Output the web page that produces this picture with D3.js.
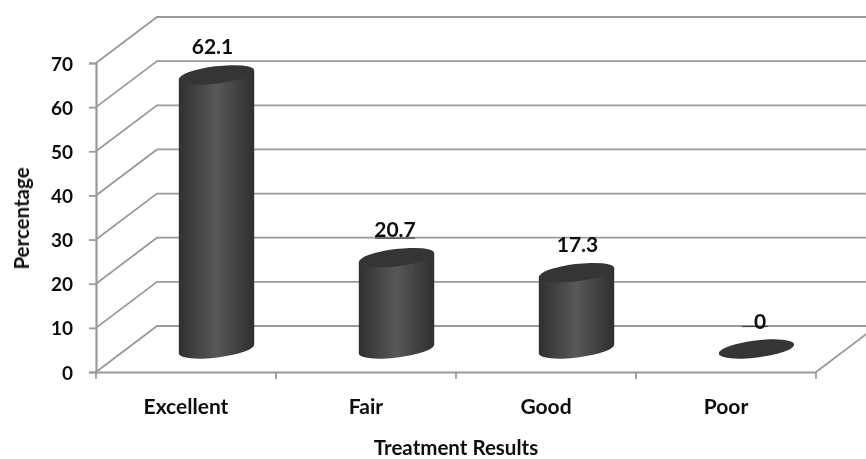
<!DOCTYPE html>
<html><head><meta charset="utf-8">
<script src="https://cdn.jsdelivr.net/npm/d3@7"></script>
<style>
html,body{margin:0;padding:0;background:#fff;overflow:hidden}
text{font-family:Lato,"Open Sans",sans-serif;fill:#111}
</style></head><body>
<svg id="c" width="866" height="459"></svg>
<script>
const categories = ["Excellent","Fair","Good","Poor"];
const values = [62.1,20.7,17.3,0];
const valueLabels = ["62.1","20.7","17.3","0"];
const yTicks = [0,10,20,30,40,50,60,70];
const xAxisTitle = "Treatment Results";
const yAxisTitle = "Percentage";

const svg = d3.select("#c");
const x = d3.scaleBand().domain(categories).range([96,816]);
const y = d3.scaleLinear().domain([0,70]).range([372,63]);
const depth = {dx:61, dy:-46};
const gray = "#9a9a9a";

const defs = svg.append("defs");
const grad = defs.append("linearGradient").attr("id","cyl");
[[0,"#303030"],[0.5,"#585858"],[1,"#2e2e2e"]].forEach(s=>
  grad.append("stop").attr("offset",s[0]).attr("stop-color",s[1]));
defs.append("filter").attr("id","soft").append("feGaussianBlur").attr("stdDeviation",0.5);

const root = svg.append("g").attr("filter","url(#soft)");

const grid = root.append("g").attr("stroke",gray).attr("stroke-width",1.8).attr("fill","none");
yTicks.forEach(t=>{
  grid.append("path").attr("d",d3.line()([
    [x.range()[0],y(t)],
    [x.range()[0]+depth.dx,y(t)+depth.dy],
    [866,y(t)+depth.dy]
  ]));
});
grid.append("line")
  .attr("x1",x.range()[1]).attr("y1",y(0))
  .attr("x2",x.range()[1]+depth.dx).attr("y2",y(0)+depth.dy);

const yAxis = d3.axisLeft(y).tickValues(yTicks).tickSize(7).tickPadding(16);
const gy = root.append("g").attr("transform","translate(96,0)").call(yAxis);
const xAxis = d3.axisBottom(x).tickSize(0).tickPadding(27);
const gx = root.append("g").attr("transform","translate(0,372)").call(xAxis);
[...x.domain().map(c=>x(c)),x.range()[1]].forEach(p=>
  gx.append("line").attr("x1",p).attr("x2",p).attr("y1",0).attr("y2",7)
    .attr("stroke",gray).attr("stroke-width",1.8));
[gy,gx].forEach(g=>{
  g.selectAll(".domain").attr("stroke",gray).attr("stroke-width",2.2);
  g.selectAll(".tick line").attr("stroke",gray).attr("stroke-width",1.8);
  g.selectAll("text").style("font-weight",700).attr("fill","#111");
});
gy.selectAll("text").style("font-size","19px").attr("dy","0.37em");
gx.selectAll("text").style("font-size","21px");

const rx = x.bandwidth()*0.211, ry = 8.6, tilt = -7;
const cx = d => x(d) + x.bandwidth()/2 + depth.dx/2;
const by = y(0) + depth.dy/2;
const topY = v => by - (y(0)-y(v));
const rad = tilt*Math.PI/180;
const ex = rx*Math.cos(rad), ey = rx*Math.sin(rad);

const bars = root.append("g").selectAll("g").data(categories).join("g");
bars.each(function(c,i){
  const g = d3.select(this), v = values[i], cxx = cx(c), t = topY(v);
  if(v>0){
    g.append("path")
     .attr("d",`M${cxx-ex},${t-ey}L${cxx-ex},${by-ey}A${rx},${ry} ${tilt} 0 0 ${cxx+ex},${by+ey}L${cxx+ex},${t+ey}Z`)
     .attr("fill","url(#cyl)");
  }
  g.append("ellipse")
   .attr("rx",rx).attr("ry",ry)
   .attr("transform",`translate(${cxx},${t}) rotate(${tilt})`)
   .attr("fill","#353535");
});

const labelShift = d3.scaleLinear().domain([0,3]).range([-4,3.5]);
const labels = root.append("g");
categories.forEach((c,i)=>{
  const lx = cx(c)+labelShift(i), ly = topY(values[i])-28;
  if(i===1||i===3){
    const tick = i===1 ? 20 : 0;
    labels.append("line").attr("x1",lx-(i===3?18:20)).attr("x2",lx+(i===3?8:20))
      .attr("y1",y(tick)+depth.dy+.5).attr("y2",y(tick)+depth.dy+.5)
      .attr("stroke","#444").attr("stroke-width",1.2);
  }
  labels.append("text").attr("x",lx).attr("y",ly).attr("dy","0.36em")
    .attr("text-anchor","middle").style("font-size","21px").style("font-weight",700)
    .text(valueLabels[i]);
});

root.append("text").attr("x",456).attr("y",454.5).attr("text-anchor","middle")
  .style("font-size","20.5px").style("font-weight",700).text(xAxisTitle);
root.append("text").attr("transform","translate(29,218.5) rotate(-90)").attr("text-anchor","middle")
  .style("font-size","20.5px").style("font-weight",700).text(yAxisTitle);
</script>
</body></html>
